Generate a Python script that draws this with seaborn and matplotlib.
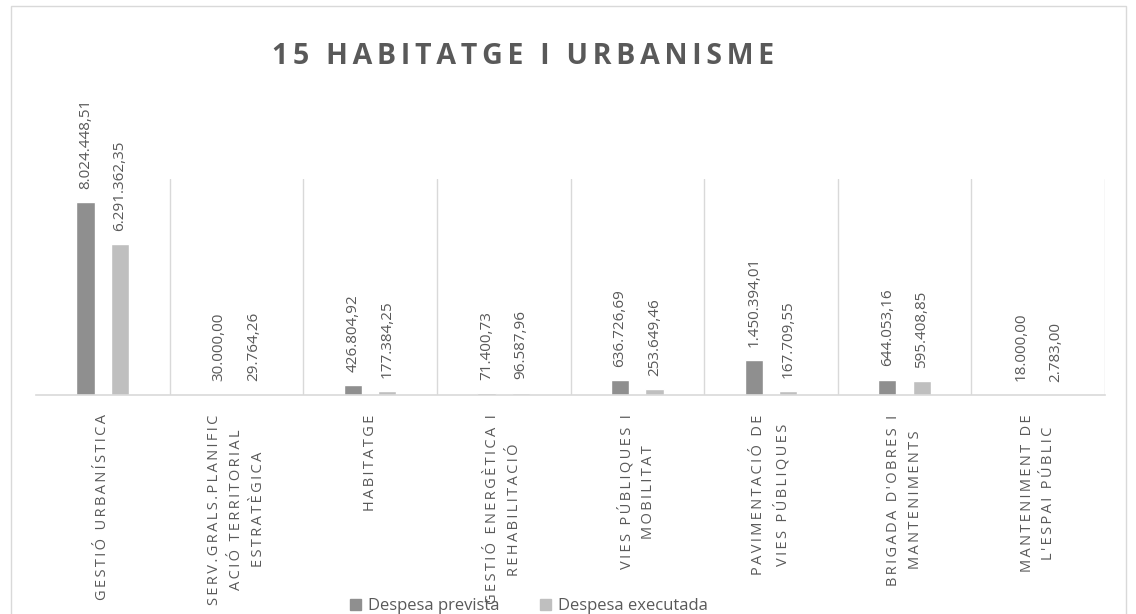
import pandas as pd
import matplotlib.pyplot as plt
import seaborn as sns
from matplotlib.patches import Rectangle

# dades del gràfic
categories = [
    "GESTIÓ URBANÍSTICA",
    "SERV.GRALS.PLANIFIC\nACIÓ TERRITORIAL\nESTRATÈGICA",
    "HABITATGE",
    "GESTIÓ ENERGÈTICA I\nREHABILITACIÓ",
    "VIES PÚBLIQUES I\nMOBILITAT",
    "PAVIMENTACIÓ DE\nVIES PÚBLIQUES",
    "BRIGADA D'OBRES I\nMANTENIMENTS",
    "MANTENIMENT DE\nL'ESPAI PÚBLIC",
]
despesa_prevista = [8024448.51, 30000.00, 426804.92, 71400.73,
                    636726.69, 1450394.01, 644053.16, 18000.00]
despesa_executada = [6291362.35, 29764.26, 177384.25, 96587.96,
                     253649.46, 167709.55, 595408.85, 2783.00]
series = ["Despesa prevista", "Despesa executada"]

df = pd.DataFrame({
    'categoria': categories * 2,
    'valor': despesa_prevista + despesa_executada,
    'serie': [series[0]] * len(categories) + [series[1]] * len(categories),
})

GRIS_TEXT = '#595959'
GRIS_LINIA = '#d9d9d9'


def fmt_euro(v):
    # format català: punt de milers, coma decimal
    return f"{v:,.2f}".replace(',', 'X').replace('.', ',').replace('X', '.')


def espaiat(s, sep='\u2009'):
    # simula l'espaiat entre lletres d'Excel
    return '\n'.join(sep.join(line) for line in s.split('\n'))


sns.set_style('white')
plt.rcParams['font.family'] = ['Open Sans', 'DejaVu Sans']

fig = plt.figure(figsize=(11.36, 6.14), dpi=100)
ax = fig.add_axes([36 / 1136, 1 - 395 / 614, (1105 - 36) / 1136, (395 - 179) / 614])

sns.barplot(data=df, x='categoria', y='valor', hue='serie', order=categories,
            hue_order=series, palette=['#8f8f8f', '#bfbfbf'], saturation=1,
            width=0.515, gap=0.47, errorbar=None, ax=ax)

ax.set_ylim(0, 9e6)
ax.set_xlim(-0.5, len(categories) - 0.5)
ax.set_xlabel('')
ax.set_ylabel('')
ax.set_yticks([])

for container in ax.containers:
    ax.bar_label(container, labels=[fmt_euro(v) for v in container.datavalues],
                 rotation=90, padding=9.5, fontsize=11, color=GRIS_TEXT)

ax.set_xticks(range(len(categories)))
ax.set_xticklabels([espaiat(c) for c in categories], rotation=90, ha='center',
                   va='top', multialignment='center', fontsize=10.5,
                   color=GRIS_TEXT, linespacing=1.6)
ax.tick_params(axis='x', length=0, pad=14)

# línies verticals entre categories
ax.set_xticks([i + 0.5 for i in range(len(categories))], minor=True)
ax.tick_params(axis='x', which='minor', length=0)
ax.grid(True, which='minor', axis='x', color=GRIS_LINIA, lw=1)
ax.grid(False, which='major')

for side in ['top', 'left', 'right']:
    ax.spines[side].set_visible(False)
ax.spines['bottom'].set_color(GRIS_LINIA)
ax.spines['bottom'].set_linewidth(1.2)

ax.get_legend().remove()
handles = [Rectangle((0, 0), 1, 1, color=c) for c in ['#8f8f8f', '#bfbfbf']]
fig.legend(handles, series, loc='center', bbox_to_anchor=(529 / 1136, 1 - 606 / 614),
           ncol=2, frameon=False, fontsize=12, labelcolor=GRIS_TEXT,
           handlelength=0.65, handleheight=0.65, handletextpad=0.45,
           columnspacing=2.4, borderaxespad=0)

fig.text(523 / 1136, 1 - 64 / 614, espaiat("15 HABITATGE I URBANISME", '\u2006'),
         ha='center', va='baseline', fontsize=20.5, fontweight='bold',
         color=GRIS_TEXT)

# vora de l'àrea del gràfic
fig.add_artist(Rectangle((11 / 1136, -0.05), (1126 - 11) / 1136, 1.05 - 6 / 614,
                         transform=fig.transFigure, fill=False,
                         edgecolor=GRIS_LINIA, lw=1))

fig.savefig('out.png', dpi=100)
